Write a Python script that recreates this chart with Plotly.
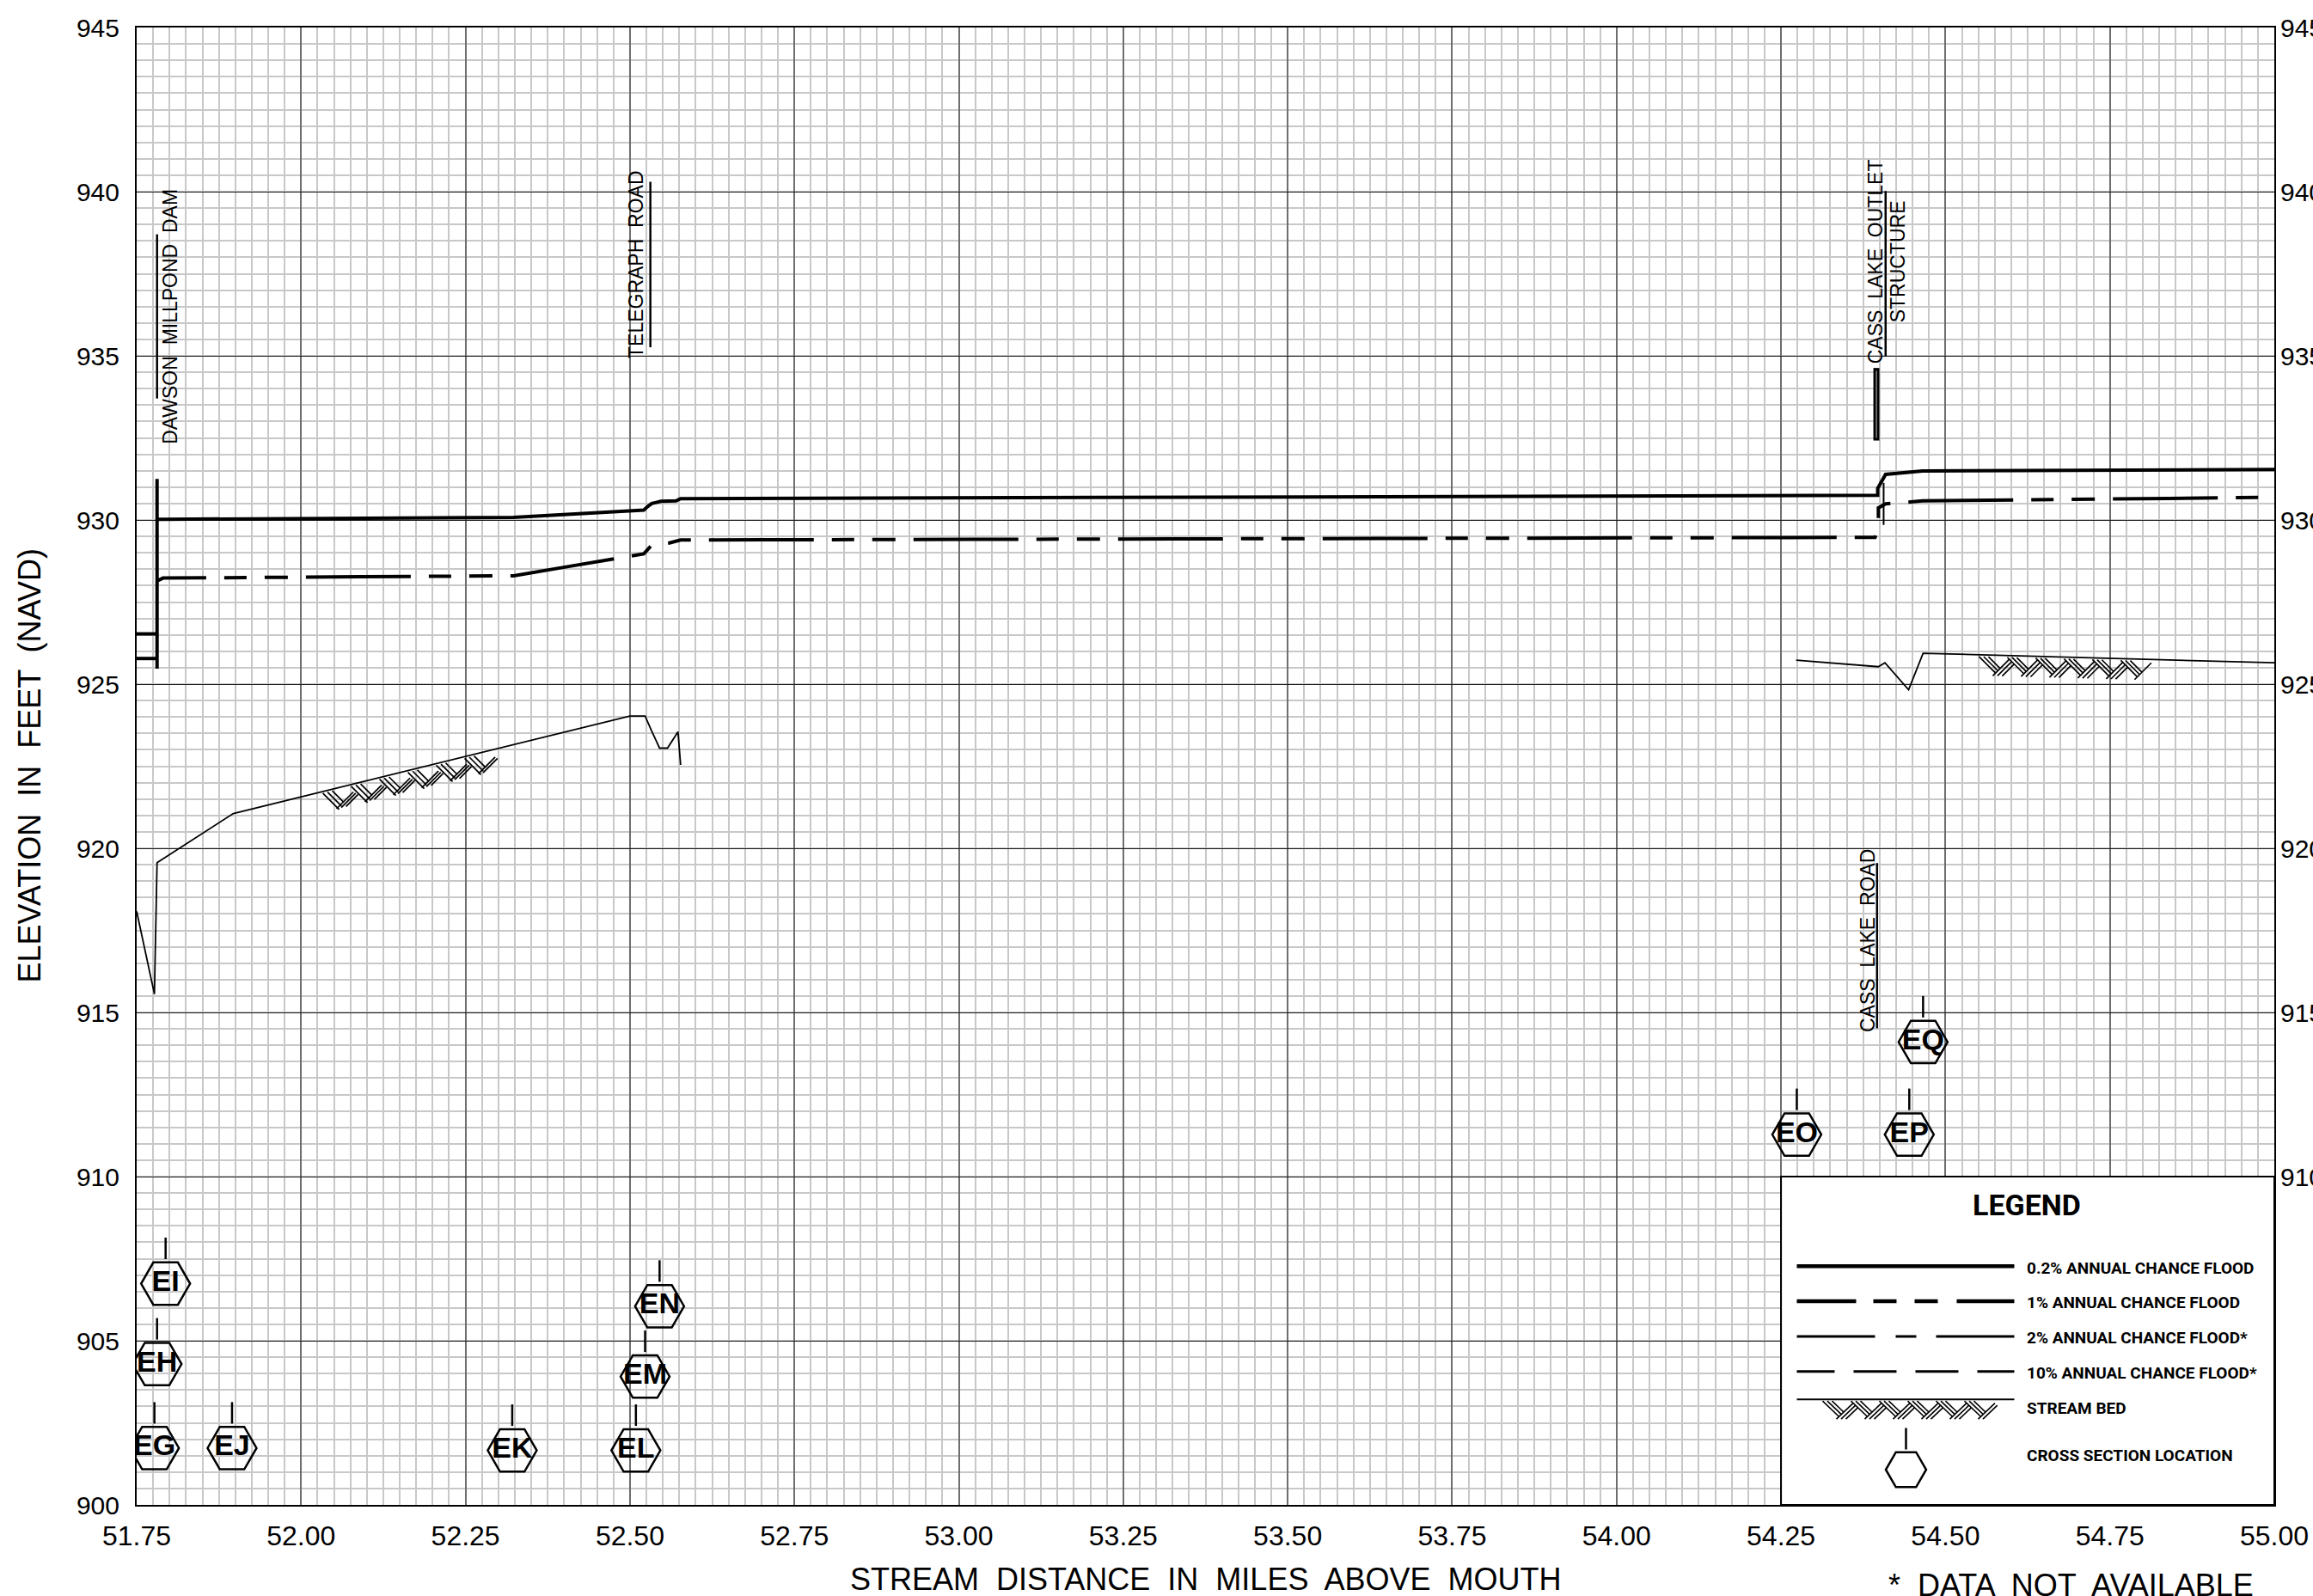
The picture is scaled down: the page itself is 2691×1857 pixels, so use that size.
import numpy as np
import plotly.graph_objects as go

# ---------------- data ----------------
x_tick_vals = [51.75, 52.00, 52.25, 52.50, 52.75, 53.00, 53.25, 53.50, 53.75, 54.00, 54.25, 54.50, 54.75, 55.00]
y_tick_vals = [900, 905, 910, 915, 920, 925, 930, 935, 940, 945]
y_tick_vals_right = [910, 915, 920, 925, 930, 935, 940, 945]

# tailwater just below Dawson Millpond Dam
tail_x = [51.750, 51.781]
tail_02_y = [926.53, 926.53]
tail_01_y = [925.78, 925.78]

# 0.2% annual chance flood profile
flood02_x = [51.781, 51.790, 52.323, 52.521, 52.527, 52.533, 52.547, 52.570, 52.577, 53.500,
             54.397, 54.397, 54.409, 54.465, 55.000]
flood02_y = [930.02, 930.02, 930.08, 930.30, 930.41, 930.50, 930.57, 930.58, 930.65, 930.70,
             930.75, 930.96, 931.39, 931.49, 931.54]

# 1% annual chance flood profile
flood01_x = [51.781, 51.790, 52.323, 52.508, 52.521, 52.533, 52.560, 52.577, 53.500,
             54.393, 54.398, 54.398, 54.409, 54.465, 55.000]
flood01_y = [928.14, 928.23, 928.30, 928.95, 928.97, 929.23, 929.30, 929.39, 929.43,
             929.47, 929.73, 930.37, 930.49, 930.58, 930.69]

# stream bed, two surveyed reaches
bed_lower_x = [51.750, 51.777, 51.781, 51.897, 52.500, 52.523, 52.533, 52.545, 52.557, 52.573, 52.577]
bed_lower_y = [918.08, 915.56, 919.56, 921.06, 924.03, 924.03, 923.57, 923.05, 923.05, 923.55, 922.54]
bed_upper_x = [54.273, 54.398, 54.408, 54.444, 54.466, 55.000]
bed_upper_y = [925.73, 925.53, 925.65, 924.83, 925.94, 925.65]

# cross sections
xs_names = ["EG", "EH", "EI", "EJ", "EK", "EL", "EM", "EN", "EO", "EP", "EQ"]
xs_mile = [51.777, 51.781, 51.794, 51.895, 52.321, 52.509, 52.523, 52.545, 54.274, 54.445, 54.466]
xs_label_elev = [901.73, 904.29, 906.74, 901.73, 901.66, 901.66, 903.91, 906.05, 911.28, 911.28, 914.10]

# structures
dam_mile, dam_bottom, dam_top = 51.781, 925.47, 931.25
road_mile, road_bottom, road_top = 54.406, 929.85, 931.13
gate_mile, gate_bottom, gate_top = 54.395, 932.42, 934.63

label_text = ["DAWSON  MILLPOND  DAM", "TELEGRAPH  ROAD", "CASS  LAKE  OUTLET", "STRUCTURE", "CASS  LAKE  ROAD"]
label_mile = [51.800, 52.510, 54.394, 54.428, 54.381]
label_elev = [936.19, 937.79, 937.88, 937.88, 917.18]

leader_mile = [51.781, 52.531, 54.409, 54.396]
leader_bottom = [933.70, 935.26, 934.98, 914.52]
leader_top = [938.70, 940.30, 940.02, 919.55]

legend_labels = ["0.2% ANNUAL CHANCE FLOOD", "1% ANNUAL CHANCE FLOOD", "2% ANNUAL CHANCE FLOOD*",
                 "10% ANNUAL CHANCE FLOOD*", "STREAM BED", "CROSS SECTION LOCATION"]

# ---------------- geometry / style ----------------
W, H = 2691, 1857
ML, MR, MT, MB = 159, 45, 32, 106
X_RANGE = [51.75, 55.00]
Y_RANGE = [900, 945]
PX_PER_MI = (W - ML - MR) / (X_RANGE[1] - X_RANGE[0])
PX_PER_FT = (H - MT - MB) / (Y_RANGE[1] - Y_RANGE[0])

SANS = "Liberation Sans, Arial, sans-serif"
BOLD_NARROW = "Roboto, Liberation Sans, sans-serif"
BLACK = "#000000"

HEX_PX = 57
STEM_PX = 25


def vsegs(xs, y0s, y1s):
    sx, sy = [], []
    for x, a, b in zip(xs, y0s, y1s):
        sx += [x, x, None]
        sy += [a, b, None]
    return sx, sy


def hatch(x_start, x_end, base_x, base_y, depth=1.0):
    """Herring-bone hatch under a stream bed line: bricks of three 45-degree strokes,
    alternately leaning down-right and up-right, each ending on its neighbour."""
    sx, sy = [], []
    total = (x_end - x_start) * PX_PER_MI
    period, gap = 33.0, 5.5
    k = 0
    while k * period < total:
        b = k * period
        strokes = []
        for i in range(3):      # down-right strokes, stopped by the first up-right stroke
            a0 = b + gap * i
            a1 = b + 19 + gap * i / 2
            strokes.append((a0, 2, a1, 2 + (a1 - a0)))
        for j in range(3):      # up-right strokes, stopped by the next brick
            a0 = b + 16 + gap * j
            a1 = b + 35.5 + gap * j / 2
            strokes.append((a0, 24, a1, 24 - (a1 - a0)))
        for a0, d0, a1, d1 in strokes:
            if a1 > total:
                continue
            x0 = x_start + a0 / PX_PER_MI
            x1 = x_start + a1 / PX_PER_MI
            yb = float(np.interp(x0, base_x, base_y))
            sx += [x0, x1, None]
            sy += [yb - depth * d0 / PX_PER_FT, yb - depth * d1 / PX_PER_FT, None]
        k += 1
    return sx, sy


def line(x, y, width, dash="solid", color=BLACK):
    return go.Scatter(x=x, y=y, mode="lines", line=dict(color=color, width=width, dash=dash),
                      hoverinfo="skip", showlegend=False, connectgaps=False)


fig = go.Figure()

# stream bed
fig.add_trace(line(bed_lower_x, bed_lower_y, 1.8))
fig.add_trace(line(bed_upper_x, bed_upper_y, 1.8))
hx, hy = hatch(52.033, 52.300, bed_lower_x, bed_lower_y)
fig.add_trace(line(hx, hy, 1.7))
hx, hy = hatch(54.551, 54.815, bed_upper_x, bed_upper_y)
fig.add_trace(line(hx, hy, 1.7))

# flood profiles
fig.add_trace(line(tail_x, tail_02_y, 4))
fig.add_trace(line(tail_x, tail_01_y, 4))
fig.add_trace(line(flood02_x, flood02_y, 4))
fig.add_trace(line(flood01_x, flood01_y, 4, dash="58px,21px,26px,21px,27px,21px,64px,0px"))

# structures on the profile
fig.add_trace(line([dam_mile, dam_mile], [dam_bottom, dam_top], 4))
fig.add_trace(line([road_mile, road_mile], [road_bottom, road_top], 2))
fig.add_trace(line([gate_mile, gate_mile], [gate_bottom, gate_top], 7))
fig.add_trace(line([gate_mile, gate_mile], [gate_bottom + 0.08, gate_top - 0.08], 1.3, color="#9a9a9a"))

# label leaders
lx, ly = vsegs(leader_mile, leader_bottom, leader_top)
fig.add_trace(line(lx, ly, 2.5))

# cross section hexagons with stems
half_ft = HEX_PX / 2 / PX_PER_FT
stem_ft = STEM_PX / PX_PER_FT
sx, sy = vsegs(xs_mile, [e + half_ft for e in xs_label_elev], [e + half_ft + stem_ft for e in xs_label_elev])
fig.add_trace(line(sx, sy, 2.5))
fig.add_trace(go.Scatter(
    x=xs_mile, y=xs_label_elev, mode="markers+text", text=xs_names, textposition="middle center",
    textfont=dict(family=SANS, size=34, color=BLACK, weight="bold"),
    marker=dict(symbol="hexagon2-open", size=HEX_PX, color=BLACK, line=dict(color=BLACK, width=2.5)),
    hoverinfo="skip", showlegend=False))

# ---------------- legend panel ----------------
box_x = [54.25, 55.00, 55.00, 54.25, 54.25]
box_y = [900, 900, 910, 910, 900]
fig.add_trace(go.Scatter(x=box_x, y=box_y, mode="lines", fill="toself", fillcolor="white",
                         line=dict(color=BLACK, width=2), hoverinfo="skip", showlegend=False))

leg_x0 = 54.25 + 18.4 / PX_PER_MI
leg_x1 = leg_x0 + 253 / PX_PER_MI
row_px = [1473.3, 1514.0, 1555.0, 1595.7, 1628.3]
row_y = [Y_RANGE[0] + (H - MB - p) / PX_PER_FT for p in row_px]
row_styles = [("solid", 4.5), ("69px,20px,27px,21px,27px,22px,68px", 4.5),
              ("91px,24px,24px,23px,91px", 3), ("44px,22px,50px,22px,50px,22px,43px", 3), ("solid", 2)]
for yv, (dash, wdt) in zip(row_y, row_styles):
    fig.add_trace(line([leg_x0, leg_x1], [yv, yv], wdt, dash=dash))
hx, hy = hatch(leg_x0 + 30 / PX_PER_MI, leg_x0 + 236 / PX_PER_MI, [leg_x0, leg_x1],
               [row_y[4], row_y[4]], depth=0.95)
fig.add_trace(line(hx, hy, 1.6))

leg_hex_x = leg_x0 + 127 / PX_PER_MI
leg_hex_y = Y_RANGE[0] + (H - MB - 1710) / PX_PER_FT
leg_hex_px = 47
fig.add_trace(line([leg_hex_x, leg_hex_x],
                   [leg_hex_y + leg_hex_px / 2 / PX_PER_FT, leg_hex_y + (leg_hex_px / 2 + 25) / PX_PER_FT], 2.5))
fig.add_trace(go.Scatter(x=[leg_hex_x], y=[leg_hex_y], mode="markers",
                         marker=dict(symbol="hexagon2-open", size=leg_hex_px, color=BLACK,
                                     line=dict(color=BLACK, width=2.5)),
                         hoverinfo="skip", showlegend=False))

# invisible trace so the right-hand elevation axis is drawn
fig.add_trace(go.Scatter(x=[X_RANGE[0]], y=[Y_RANGE[0]], yaxis="y2", mode="markers",
                         marker=dict(opacity=0), hoverinfo="skip", showlegend=False))

annotations = []
for t, xm, ye in zip(label_text, label_mile, label_elev):
    annotations.append(dict(x=xm, y=ye, xref="x", yref="y", text=t, textangle=-90, showarrow=False,
                            xanchor="center", yanchor="middle",
                            font=dict(family=SANS, size=23, color=BLACK)))

text_x = leg_x0 + 266 / PX_PER_MI
text_px = [1475, 1515.7, 1556.7, 1597.3, 1638.3, 1693.3]
for t, p in zip(legend_labels, text_px):
    annotations.append(dict(x=text_x, y=Y_RANGE[0] + (H - MB - p) / PX_PER_FT, xref="x", yref="y",
                            text=t, showarrow=False, xanchor="left", yanchor="middle",
                            font=dict(family=BOLD_NARROW, size=19, color=BLACK, weight="bold")))
annotations.append(dict(x=54.623, y=Y_RANGE[0] + (H - MB - 1401.7) / PX_PER_FT, xref="x", yref="y",
                        text="LEGEND", showarrow=False, xanchor="center", yanchor="middle",
                        font=dict(family=BOLD_NARROW, size=34, color=BLACK, weight="bold")))

plot_w, plot_h = W - ML - MR, H - MT - MB
annotations.append(dict(x=0.5, y=(H - MB - 1837) / plot_h, xref="paper", yref="paper",
                        text="STREAM  DISTANCE  IN  MILES  ABOVE  MOUTH", showarrow=False,
                        xanchor="center", yanchor="middle", font=dict(family=SANS, size=36, color=BLACK)))
annotations.append(dict(x=(34 - ML) / plot_w, y=0.5, xref="paper", yref="paper",
                        text="ELEVATION  IN  FEET  (NAVD)", textangle=-90, showarrow=False,
                        xanchor="center", yanchor="middle", font=dict(family=SANS, size=36, color=BLACK)))
annotations.append(dict(x=(2409 - ML) / plot_w, y=(H - MB - 1845) / plot_h, xref="paper", yref="paper",
                        text="*  DATA  NOT  AVAILABLE", showarrow=False,
                        xanchor="center", yanchor="middle", font=dict(family=SANS, size=36, color=BLACK)))

axis_common = dict(showline=True, linecolor=BLACK, linewidth=2, mirror=True, ticks="", zeroline=False,
                   automargin=False)

fig.update_layout(
    width=W, height=H,
    margin=dict(l=ML, r=MR, t=MT, b=MB, pad=0, autoexpand=False),
    paper_bgcolor="white", plot_bgcolor="white",
    showlegend=False,
    xaxis=dict(range=X_RANGE, tickvals=x_tick_vals, ticktext=[f"{v:.2f}" for v in x_tick_vals],
               showgrid=True, gridcolor="#6e6e6e", gridwidth=2,
               minor=dict(dtick=0.025, tick0=51.75, showgrid=True, gridcolor="#c8c8c8", gridwidth=2),
               ticklabelstandoff=7, tickfont=dict(family=SANS, size=32, color=BLACK), **axis_common),
    yaxis=dict(range=Y_RANGE, tickvals=y_tick_vals, showgrid=True, gridcolor="#1a1a1a", gridwidth=1.4,
               minor=dict(dtick=0.5, tick0=900, showgrid=True, gridcolor="#c8c8c8", gridwidth=2),
               ticklabelstandoff=12, tickfont=dict(family=SANS, size=30, color=BLACK), **axis_common),
    yaxis2=dict(range=Y_RANGE, tickvals=y_tick_vals_right, overlaying="y", side="right", showgrid=False,
                showline=False, ticks="", zeroline=False, ticklabelstandoff=6, automargin=False,
                tickfont=dict(family=SANS, size=30, color=BLACK)),
    annotations=annotations,
)

fig.write_html("out.html")
